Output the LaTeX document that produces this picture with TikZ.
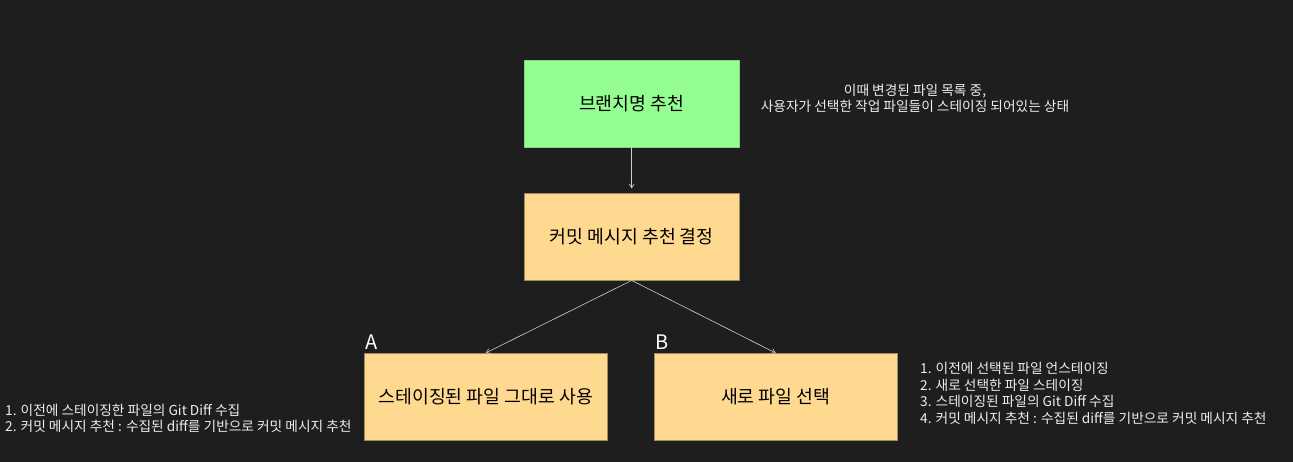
\documentclass[tikz,border=0pt]{standalone}
\usepackage{fontspec}
\setmainfont{Noto Sans CJK KR}
\usetikzlibrary{positioning,arrows.meta}
\definecolor{bggray}{HTML}{1E1E1E}
\definecolor{branchfill}{HTML}{95FE93}
\definecolor{branchline}{HTML}{7FD67E}
\definecolor{commitfill}{HTML}{FFD98F}
\definecolor{commitline}{HTML}{A08A60}
\definecolor{notetext}{HTML}{EDEDED}
\definecolor{flowline}{HTML}{D0D0D0}
\tikzset{
  stepbox/.style={draw=commitline, fill=commitfill, inner sep=0pt, anchor=north west,
                  minimum width=#1, minimum height=87pt, text=black,
                  font=\fontsize{18.3}{22}\selectfont},
  stepbox/.default=215pt,
  branch/.style={draw=branchline, fill=branchfill},
  note/.style={text=notetext, inner sep=0pt, font=\fontsize{13.7}{16.5}\selectfont},
  tag/.style={text=white, inner sep=0pt, font=\fontsize{20}{24}\selectfont},
  flow/.style={-{Straight Barb[length=4pt,width=5pt]}, draw=flowline, line width=0.6pt},
}

\begin{document}
\begin{tikzpicture}[x=1pt, y=-1pt]
  \fill[bggray] (0,0) rectangle (1293,462);
  \useasboundingbox (0,0) rectangle (1293,462);
  \node[stepbox, branch] (br) at (524,60) {브랜치명 추천};
  \node[stepbox] (cm) at (524,193) {커밋 메시지 추천 결정};
  \node[stepbox=243pt] (a) at (364,353) {스테이징된 파일 그대로 사용};
  \node[stepbox=243pt] (b) at (654,353) {새로 파일 선택};
  \node[tag, anchor=south west] (ta) at (a.north west) [yshift=3pt, xshift=1pt] {A};
  \node[tag, anchor=south west] (tb) at (b.north west) [yshift=3pt, xshift=1pt] {B};
  \node[note, align=center] (state) at (915,98.5) {이때 변경된 파일 목록 중,\\사용자가 선택한 작업 파일들이 스테이징 되어있는 상태};
  \node[note, align=left, anchor=west] (stepsa) at (5,418.5) {1. 이전에 스테이징한 파일의 Git Diff 수집\\2. 커밋 메시지 추천 : 수집된 diff를 기반으로 커밋 메시지 추천};
  \node[note, align=left, anchor=west] (stepsb) at (920,393.5) {1. 이전에 선택된 파일 언스테이징\\2. 새로 선택한 파일 스테이징\\3. 스테이징된 파일의 Git Diff 수집\\4. 커밋 메시지 추천 : 수집된 diff를 기반으로 커밋 메시지 추천};
  \draw[flow] (br.south) -- ++(0,41);
  \foreach \t in {a,b} \draw[flow] (cm.south) -- (\t.north);
\end{tikzpicture}
\end{document}
